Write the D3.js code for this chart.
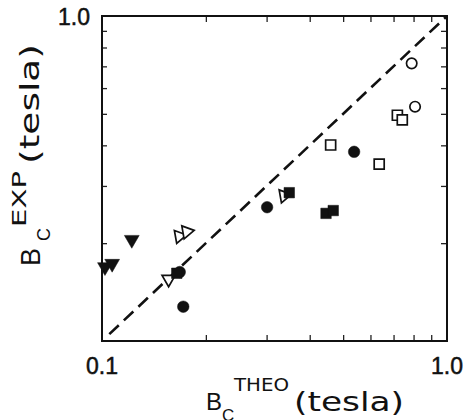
<!DOCTYPE html>
<meta charset="utf-8">
<script src="https://d3js.org/d3.v7.min.js"></script>
<style>
  body { margin: 0; background: #fff; }
  text { font-family: "Liberation Sans", Arial, sans-serif; fill: #111; }
  .lab { font-family: "DejaVu Sans", sans-serif; }
</style>
<body>
<div id="my_dataviz"></div>
<script>

  // data (tesla), x = B_C THEO, y = B_C EXP
  var filledTriX = [0.102, 0.107, 0.122];
  var filledTriY = [0.169, 0.173, 0.205];

  var openTriX = [0.1675, 0.176, 0.337];
  var openTriY = [0.210, 0.217, 0.280];

  var openTriRX = [0.156];
  var openTriRY = [0.155];

  var filledSqX = [0.1647, 0.349, 0.446, 0.468];
  var filledSqY = [0.1616, 0.286, 0.247, 0.252];

  var filledCircX = [0.168, 0.172, 0.301, 0.538];
  var filledCircY = [0.163, 0.1275, 0.258, 0.382];

  var openSqX = [0.460, 0.636, 0.718, 0.742];
  var openSqY = [0.401, 0.350, 0.495, 0.479];

  var openCircX = [0.790, 0.808];
  var openCircY = [0.715, 0.526];

  var diagonal = [0.105, 1.0];
  var minorTicks = [0.2, 0.3, 0.4, 0.5, 0.6, 0.7, 0.8, 0.9];
  var tickLabels = ["0.1", "1.0"];

  // set the dimensions and margins of the graph
  var margin = { top: 16, right: 19, bottom: 79, left: 102 },
    width = 466 - margin.left - margin.right,
    height = 420 - margin.top - margin.bottom;

  var svg = d3.select("#my_dataviz")
    .append("svg")
    .attr("width", 466)
    .attr("height", 420)
    .append("g")
    .attr("transform", "translate(" + margin.left + "," + margin.top + ")");

  var x = d3.scaleLog().domain([0.1, 1]).range([0, width]);
  var y = d3.scaleLog().domain([0.1, 1]).range([height, 0]);

  // inward minor ticks on all four sides
  svg.append("g")
    .attr("transform", "translate(0," + height + ")")
    .call(d3.axisBottom(x).tickValues(minorTicks).tickSizeInner(-6).tickSizeOuter(0).tickFormat(""));
  svg.append("g")
    .call(d3.axisTop(x).tickValues(minorTicks).tickSizeInner(-6).tickSizeOuter(0).tickFormat(""));
  svg.append("g")
    .call(d3.axisLeft(y).tickValues(minorTicks).tickSizeInner(-5).tickSizeOuter(0).tickFormat(""));
  svg.append("g")
    .attr("transform", "translate(" + width + ",0)")
    .call(d3.axisRight(y).tickValues(minorTicks).tickSizeInner(-6).tickSizeOuter(0).tickFormat(""));
  svg.selectAll(".domain").remove();
  svg.selectAll(".tick line").attr("stroke", "#222").attr("stroke-width", 1.3);

  // frame
  svg.append("rect")
    .attr("width", width)
    .attr("height", height)
    .attr("fill", "none")
    .attr("stroke", "#111")
    .attr("stroke-width", 2);

  // dashed y = x line
  svg.append("path")
    .datum(diagonal)
    .attr("d", d3.line().x(function (d) { return x(d) }).y(function (d) { return y(d) }))
    .attr("stroke", "#111")
    .attr("stroke-width", 2.6)
    .attr("stroke-dasharray", "13,7")
    .attr("fill", "none");

  // helper: draw a set of symbols
  function plotSymbols(xs, ys, type, size, filled, rot) {
    svg.append("g").selectAll("path")
      .data(xs.map(function (d, i) { return [d, ys[i]] }))
      .enter()
      .append("path")
      .attr("d", d3.symbol().type(type).size(size))
      .attr("transform", function (d) {
        return "translate(" + x(d[0]) + "," + y(d[1]) + ") rotate(" + rot + ")";
      })
      .attr("fill", filled ? "#111" : "#fff")
      .attr("stroke", "#111")
      .attr("stroke-width", filled ? 0.5 : 1.7);
  }

  plotSymbols(openTriRX, openTriRY, d3.symbolTriangle, 75, false, 60);
  plotSymbols(openTriX, openTriY, d3.symbolTriangle, 75, false, 200);
  plotSymbols(filledTriX, filledTriY, d3.symbolTriangle, 95, true, 180);
  plotSymbols(filledCircX, filledCircY, d3.symbolCircle, 105, true, 0);
  plotSymbols(filledSqX, filledSqY, d3.symbolSquare, 110, true, 0);
  plotSymbols(openSqX, openSqY, d3.symbolSquare, 100, false, 0);
  plotSymbols(openCircX, openCircY, d3.symbolCircle, 85, false, 0);

  // tick labels at the corners
  function tickText(tx, ty, anchor, label) {
    svg.append("text")
      .attr("x", tx).attr("y", ty)
      .attr("text-anchor", anchor)
      .style("font-size", "23px")
      .attr("stroke", "#111")
      .attr("stroke-width", 0.5)
      .text(label);
  }
  tickText(-12, 9, "end", tickLabels[1]);
  tickText(x(0.1), height + 33, "middle", tickLabels[0]);
  tickText(x(1), height + 33, "middle", tickLabels[1]);

  // axis title pieces
  function titlePiece(g, t, px, py, fs, len, cls) {
    var el = g.append("text")
      .attr("class", cls || null)
      .attr("x", px).attr("y", py)
      .style("font-size", fs + "px")
      .text(t);
    if (len) el.attr("textLength", len).attr("lengthAdjust", "spacingAndGlyphs");
    return el;
  }

  // x axis title, B_C^THEO (tesla)
  var xg = svg.append("g").attr("transform", "translate(" + (-margin.left) + "," + (-margin.top) + ")");
  titlePiece(xg, "B", 206, 410, 24, 0);
  titlePiece(xg, "C", 222, 421, 17, 0);
  titlePiece(xg, "THEO", 234, 391, 17, 55, "lab");
  titlePiece(xg, "(tesla)", 294, 411, 27, 110, "lab");

  // y axis title, B_C^EXP(tesla), written bottom to top
  var yg = svg.append("g").attr("transform", "translate(" + (-margin.left) + "," + (-margin.top) + ")");
  [["B", 40, 266, 27, 0, null],
   ["C", 50, 241, 18, 0, null],
   ["EXP", 26, 227, 19, 56, "lab"],
   ["(tesla)", 39, 164, 26, 120, "lab"]]
    .forEach(function (p) {
      titlePiece(yg, p[0], 0, 0, p[3], p[4], p[5])
        .attr("transform", "translate(" + p[1] + "," + p[2] + ")rotate(-90)");
    });

</script>
</body>
